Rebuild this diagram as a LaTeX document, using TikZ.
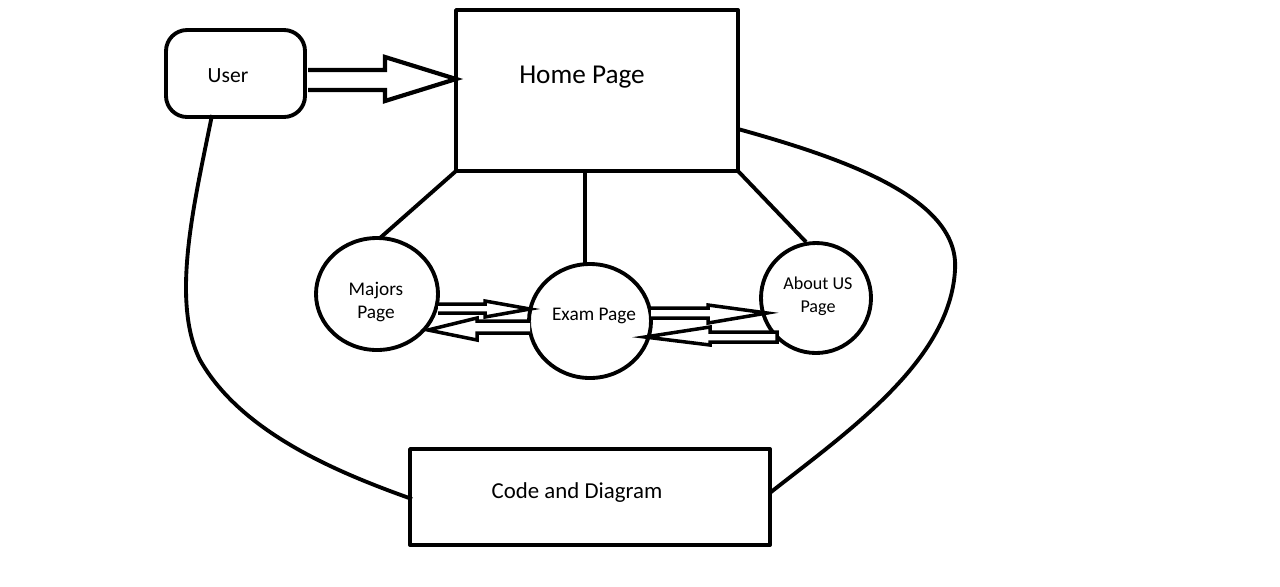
\documentclass[tikz,border=0pt]{standalone}
\usepackage{fontspec}
\setmainfont{Carlito}
\begin{document}
\begin{tikzpicture}[x=0.02cm,y=-0.02cm,
  line width=2.2pt, line join=round,
  box/.style={draw, line width=2.2pt, inner sep=0pt},
  circtext/.style={align=center, font=\fontsize{11}{13}\selectfont},
  blockarrow/.style={draw, line width=2pt, fill=white, line join=miter}]
\useasboundingbox (0,0) rectangle (1280,586);
% nodes
\draw[box, rounded corners=12pt] (166,30) rectangle (305,117);
\node[font=\fontsize{12.3}{15}\selectfont] (user) at (228,76) {User};
\coordinate (userb) at (212,115);
\draw[box] (456,10) rectangle (738,171);
\node[font=\fontsize{15.5}{18}\selectfont] (home) at (582,77) {Home Page};
\coordinate (homeL) at (456,171);
\coordinate (homeM) at (585,171);
\coordinate (homeR) at (738,171);
\coordinate (homeE) at (738,129);
\draw[box] (410,449) rectangle (770,545);
\node[font=\fontsize{13}{16}\selectfont] (code) at (577,493) {Code and Diagram};
\coordinate (codeW) at (412,499);
\coordinate (codeE) at (771,492);
% circles
\draw (377,294) ellipse [x radius=61, y radius=56];
\node[circtext] (majors) at (376,302) {Majors\\Page};
\draw (590,321) ellipse [x radius=61, y radius=57];
\node[circtext] (exam) at (594,316) {Exam Page};
\draw (816,298) ellipse [x radius=55, y radius=55];
\node[circtext, font=\fontsize{10.3}{13}\selectfont] (about) at (818,296) {About US\\Page};
\coordinate (majT) at (380,238);
\coordinate (examT) at (585,265);
\coordinate (aboutT) at (806,242);
% connectors from home page
\draw (homeL) -- (majT);
\draw (homeM) -- (examT);
\draw (homeR) -- (aboutT);
% curves
\draw (userb) .. controls (195,200) and (170,300) .. (200,360) .. controls (240,430) and (330,470) .. (codeW);
\draw (homeE) .. controls (850,160) and (960,200) .. (955,270) .. controls (950,360) and (850,430) .. (codeE);
% block arrow user -> home
\draw[blockarrow, line width=2.4pt] (308,70) -- (385,70) -- (385,57) -- (456,79) -- (385,101) -- (385,90) -- (308,90);
% majors <-> exam
\draw[blockarrow] (438,304) -- (485,304) -- (485,301) -- (530,309) -- (485,317) -- (485,313) -- (438,313);
\draw[blockarrow] (530,321) -- (477,321) -- (477,318) -- (428,330) -- (477,340) -- (477,333) -- (530,333);
% exam <-> about
\draw[blockarrow] (651,308) -- (708,308) -- (708,305) -- (767,313) -- (708,323) -- (708,318) -- (651,318);
\draw[blockarrow] (777,332) -- (710,332) -- (710,327) -- (645,337) -- (710,345) -- (710,342) -- (777,342) -- cycle;
\end{tikzpicture}
\end{document}
